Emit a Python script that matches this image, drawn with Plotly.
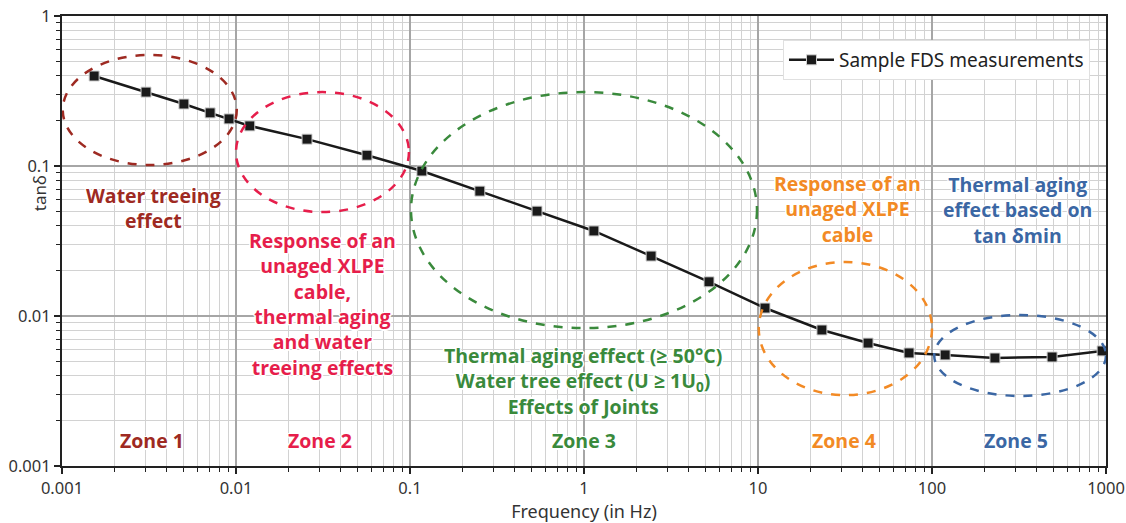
import math
import plotly.graph_objects as go

# Frequency-domain spectroscopy sweep: frequency (Hz) vs dissipation factor
freq_hz = [0.00153, 0.00304, 0.00502, 0.0071, 0.00912, 0.0120, 0.0256, 0.0566,
           0.117, 0.252, 0.537, 1.14, 2.43, 5.23, 10.97, 23.3, 42.9, 73.8,
           119, 230, 490, 950]
tan_delta = [0.398, 0.311, 0.259, 0.226, 0.206, 0.185, 0.151, 0.118,
             0.0926, 0.068, 0.050, 0.0369, 0.0251, 0.0169, 0.0113, 0.00807,
             0.0066, 0.00567, 0.0055, 0.00525, 0.00533, 0.00585]

# Tick labels
x_ticks = [0.001, 0.01, 0.1, 1, 10, 100, 1000]
x_tick_text = ["0.001", "0.01", "0.1", "1", "10", "100", "1000"]
y_ticks = [0.001, 0.01, 0.1, 1]
y_tick_text = ["0.001", "0.01", "0.1", "1"]

# Zone names, colours and label positions (frequency, tan delta)
zone_names = ["Zone 1", "Zone 2", "Zone 3", "Zone 4", "Zone 5"]
zone_colors = ["#9E2A22", "#E61E4B", "#3A8A3C", "#F28A25", "#3B67A4"]
zone_label_freq = [0.00327, 0.0304, 1.0, 31.2, 302]
zone_label_tan = 0.00149

# Dashed ellipse bounds per zone: (f_min, f_max, tan_min, tan_max)
zone_f_min = [0.00101, 0.0100, 0.1013, 10.1, 103]
zone_f_max = [0.0101, 0.0986, 9.87, 100, 1000]
zone_t_min = [0.1016, 0.0493, 0.0083, 0.00297, 0.00293]
zone_t_max = [0.55, 0.311, 0.311, 0.0229, 0.01016]

# Explanatory notes per zone
zone_notes = [
    "Water treeing<br>effect",
    "Response of an<br>unaged XLPE<br>cable,<br>thermal aging<br>and water<br>treeing effects",
    "Thermal aging effect (≥ 50°C)<br>Water tree effect (U ≥ 1U<sub>0</sub>)<br>Effects of Joints",
    "Response of an<br>unaged XLPE<br>cable",
    "Thermal aging<br>effect based on<br>tan δmin",
]
note_freq = [0.00334, 0.0316, 0.986, 32.9, 312]
note_tan = [0.0525, 0.0121, 0.00369, 0.0516, 0.0509]

TEXT_FONT = "Open Sans"
TEXT_SIZE = 19.5
HALO = ("-1px -1px 0 #fff, 1px -1px 0 #fff, -1px 1px 0 #fff, 1px 1px 0 #fff, "
        "0 -1.5px 0 #fff, 0 1.5px 0 #fff, -1.5px 0 0 #fff, 1.5px 0 0 #fff")

fig = go.Figure()

fig.add_trace(go.Scatter(
    x=freq_hz, y=tan_delta,
    mode="lines+markers",
    name="Sample FDS measurements",
    line=dict(color="#1a1a1a", width=2.5),
    marker=dict(symbol="square", size=10, color="#1a1a1a",
                line=dict(color="#d0d0d0", width=1)),
))

shapes = []
for i in range(len(zone_names)):
    shapes.append(dict(
        type="circle", xref="x", yref="y",
        x0=zone_f_min[i], x1=zone_f_max[i],
        y0=zone_t_min[i], y1=zone_t_max[i],
        line=dict(color=zone_colors[i], width=2.5, dash="dash"),
        layer="above",
    ))

annotations = []
for i in range(len(zone_names)):
    annotations.append(dict(
        x=math.log10(note_freq[i]), y=math.log10(note_tan[i]),
        xref="x", yref="y", text=zone_notes[i], showarrow=False,
        font=dict(family=TEXT_FONT, size=TEXT_SIZE, color=zone_colors[i],
                  weight="bold", shadow=HALO),
        align="center",
    ))
    annotations.append(dict(
        x=math.log10(zone_label_freq[i]), y=math.log10(zone_label_tan),
        xref="x", yref="y", text=zone_names[i], showarrow=False,
        font=dict(family=TEXT_FONT, size=TEXT_SIZE, color=zone_colors[i],
                  weight="bold", shadow=HALO),
    ))

# Vertical axis title
annotations.append(dict(
    x=-0.035, y=0.606, xref="paper", yref="paper", text="tanδ",
    showarrow=False, textangle=-90,
    font=dict(family="Noto Sans", size=17, color="#333333"),
))

axis_common = dict(
    type="log", automargin=False,
    showline=True, linecolor="#222222", linewidth=2, mirror=True,
    ticks="outside", ticklen=6, tickcolor="#222222", tickwidth=1.5,
    showgrid=True, gridcolor="#a6a6a6", gridwidth=1.5,
    tickfont=dict(family="Noto Sans", size=16.5, color="#333333"),
    zeroline=False,
    minor=dict(dtick="D1", showgrid=True, gridcolor="#d2d2d2", gridwidth=1.2,
               ticks="outside", ticklen=4, tickcolor="#222222", tickwidth=1),
)

fig.update_layout(
    width=1126, height=523,
    margin=dict(l=62, r=20, t=16, b=57, autoexpand=False),
    paper_bgcolor="white", plot_bgcolor="white",
    showlegend=True,
    legend=dict(x=0.6906, y=0.9467, xanchor="left", yanchor="top",
                itemwidth=45,
                bgcolor="white", bordercolor="#e0e0e0", borderwidth=1,
                font=dict(family="Noto Sans", size=19, color="#222222")),
    xaxis=dict(axis_common, range=[-3, 3], tickvals=x_ticks, ticktext=x_tick_text,
               title=dict(text="Frequency (in Hz)", standoff=6,
                          font=dict(family="Noto Sans", size=18, color="#333333"))),
    yaxis=dict(axis_common, range=[-3, 0], tickvals=y_ticks, ticktext=y_tick_text),
    shapes=shapes,
    annotations=annotations,
)

fig.write_html("out.html")
